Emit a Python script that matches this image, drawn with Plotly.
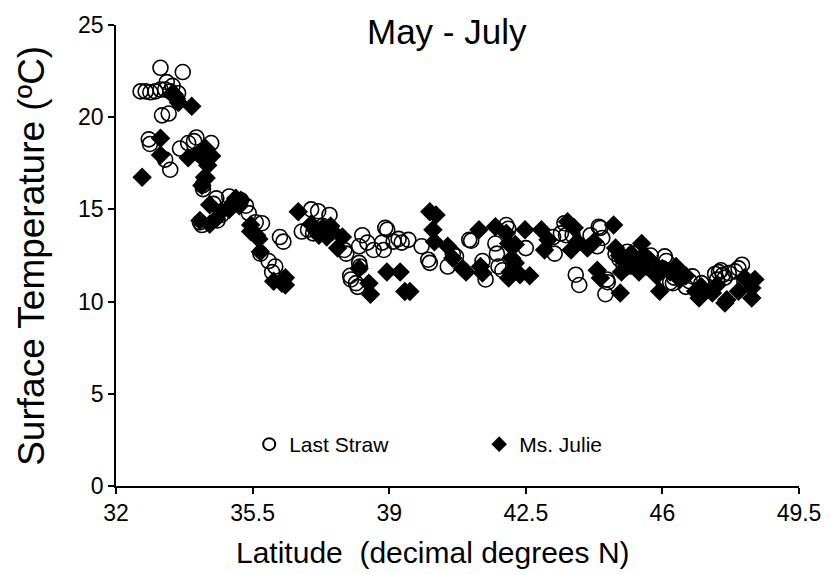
import plotly.graph_objects as go

# Last Straw (open circles)
ls_lat = [32.63, 32.76, 32.88, 33.01, 33.14, 33.26, 33.39, 33.59, 33.30, 33.14, 33.71, 33.45,
          33.18, 33.35, 32.84, 32.87, 33.26, 33.39, 33.64, 33.85, 34.06, 34.00, 34.44, 34.22, 34.23, 34.30, 34.20,
          34.15, 34.20, 34.57, 34.50, 34.90, 35.33, 35.40, 34.70, 34.60, 35.00, 35.20, 35.58, 35.74, 35.70, 35.91,
          36.08, 36.00, 36.20, 36.29,
          37.00, 37.18, 37.47, 36.76, 36.92, 37.05, 37.20, 37.30, 37.40, 37.85, 37.90, 38.00, 38.02, 38.15, 38.19,
          38.23, 38.25, 38.31, 38.23, 38.44, 38.60, 38.82, 38.90, 38.95, 38.86, 39.11, 39.24, 39.32, 39.49, 39.83,
          40.00, 40.04, 40.50, 40.63, 40.71, 41.05, 41.10,
          41.39, 41.47, 41.72, 41.76, 41.80, 41.90, 42.00, 42.05, 42.50, 43.24, 43.20, 43.49, 43.53, 43.40, 43.70,
          43.78, 43.87, 44.16, 44.41, 44.33, 44.37, 44.46, 44.58, 44.54, 44.60,
          44.80, 44.90, 45.00, 45.10, 45.20, 45.30, 45.50, 45.60, 45.70, 46.06, 46.10, 46.00, 46.27, 46.30, 46.20,
          46.77, 46.70, 46.60, 47.00, 47.35, 47.45, 47.55, 47.60, 47.50, 47.70, 47.86, 48.04, 47.95, 48.10,
          45.05, 45.25, 45.45, 47.40]
ls_temp = [21.4, 21.4, 21.35, 21.4, 21.5, 21.5, 21.4, 21.3, 21.9, 22.68, 22.45, 21.7,
           20.1, 20.2, 18.8, 18.55, 17.7, 17.15, 18.3, 18.6, 18.9, 18.7, 18.6, 16.3, 16.1, 17.7, 17.9,
           14.3, 14.15, 15.6, 15.3, 15.7, 15.2, 14.8, 14.7, 14.4, 15.3, 15.5, 14.3, 14.25, 12.6, 12.2,
           11.9, 11.6, 13.5, 13.25,
           15.0, 14.9, 14.7, 13.8, 13.9, 13.7, 13.9, 14.1, 13.8, 12.8, 12.6, 11.4, 11.2, 11.0, 10.8,
           12.1, 11.9, 13.6, 13.0, 13.2, 12.8, 13.2, 14.0, 13.9, 12.8, 13.25, 13.4, 13.2, 13.35, 13.0,
           12.27, 12.1, 11.9, 12.6, 12.45, 13.35, 13.3,
           12.2, 11.2, 13.15, 12.6, 11.9, 11.7, 14.15, 13.95, 12.9, 12.6, 13.5, 14.25, 13.6, 13.7, 13.6,
           11.46, 10.9, 13.6, 14.0, 13.0, 14.06, 13.45, 11.2, 10.4, 11.05,
           12.6, 12.3, 12.0, 12.7, 11.9, 12.2, 12.4, 12.1, 12.5, 12.45, 12.2, 11.8, 11.0, 11.3, 11.05,
           11.37, 11.1, 10.8, 11.0, 11.5, 11.6, 11.45, 11.3, 11.7, 11.55, 11.64, 12.0, 11.8, 11.1,
           12.4, 12.6, 11.8, 11.2]

# Ms. Julie (filled diamonds)
mj_lat = [32.67, 33.14, 33.14, 33.94, 33.50, 33.55, 33.60, 33.45, 33.85, 34.15, 34.30, 34.45, 34.35, 34.25,
          34.31, 34.27, 34.20,
          34.40, 34.15, 34.57, 34.40, 34.70, 34.90, 35.07, 35.16, 35.00, 35.20, 35.45, 35.45, 35.66, 35.70, 35.60,
          36.04, 36.34, 36.34, 36.25,
          36.67, 37.00, 37.10, 37.20, 37.30, 37.40, 37.50, 37.55, 37.80, 37.68, 38.23, 38.48, 38.52, 38.94, 39.28,
          39.40, 39.53,
          40.04, 40.20, 40.12, 40.16, 40.50, 40.63, 40.88, 40.97, 41.30, 41.34, 41.39, 41.72, 42.00, 42.06, 42.10,
          42.06, 42.23, 42.23, 42.35, 42.14, 42.60, 42.48, 42.90, 43.07, 42.98,
          43.57, 43.74, 43.82, 43.66, 44.25, 44.08, 44.33, 44.41, 44.75, 44.92, 44.80, 44.90, 45.00, 45.10, 45.20,
          45.30, 45.47, 45.40, 45.60, 45.70, 45.93, 45.85, 46.00, 46.20, 46.35, 46.60, 46.85, 46.94, 47.00, 47.28,
          47.40, 47.60, 47.65, 47.95, 48.29, 48.37, 48.29, 48.10,
          44.95, 45.15, 45.55, 46.45]
mj_temp = [16.75, 18.86, 17.95, 20.6, 21.2, 21.0, 20.8, 21.3, 17.8, 18.1, 18.3, 17.9, 17.4, 17.8,
           16.7, 16.75, 16.3,
           15.25, 14.4, 14.5, 14.2, 14.9, 15.0, 15.6, 15.2, 15.3, 15.5, 14.15, 13.8, 13.4, 12.7, 13.6,
           11.1, 11.3, 10.9, 11.0,
           14.87, 14.2, 13.9, 13.6, 14.0, 13.5, 14.1, 13.8, 13.5, 12.9, 11.8, 11.0, 10.4, 11.6, 11.6,
           10.55, 10.55,
           14.87, 14.7, 13.9, 13.25, 13.0, 12.35, 11.8, 11.6, 13.9, 11.9, 11.55, 14.06, 13.7, 13.15, 11.6,
           11.28, 13.1, 12.1, 11.46, 12.35, 11.4, 13.9, 13.9, 13.35, 12.8,
           14.33, 14.0, 13.25, 12.8, 13.25, 12.9, 11.7, 11.28, 14.15, 10.47, 12.9, 12.5, 12.2, 11.9, 12.6,
           12.3, 13.15, 11.6, 11.9, 12.2, 10.56, 11.4, 11.8, 11.6, 11.9, 11.4, 10.56, 10.2, 10.8, 10.47,
           10.9, 9.93, 10.1, 10.56, 10.2, 11.2, 10.74, 11.3,
           11.6, 12.0, 12.5, 11.2]

x_ticks = [32, 35.5, 39, 42.5, 46, 49.5]
y_ticks = [0, 5, 10, 15, 20, 25]

FONT = "Liberation Sans, Arial, sans-serif"

fig = go.Figure()
fig.add_trace(go.Scatter(
    x=ls_lat, y=ls_temp, mode="markers", name="Last Straw",
    marker=dict(symbol="circle-open", size=15, color="black", line=dict(width=1.6, color="black")),
))
fig.add_trace(go.Scatter(
    x=mj_lat, y=mj_temp, mode="markers", name="Ms. Julie",
    marker=dict(symbol="diamond", size=15, color="black", line=dict(width=0)),
))

fig.update_layout(
    width=833, height=574,
    margin=dict(l=116, r=23, t=22, b=88),
    paper_bgcolor="white", plot_bgcolor="white",
    font=dict(family=FONT, color="black"),
    showlegend=True,
    legend=dict(
        orientation="h", x=0.195, y=0.09, xanchor="left", yanchor="middle",
        font=dict(size=21, family=FONT), bgcolor="rgba(0,0,0,0)",
        entrywidth=185, entrywidthmode="pixels",
        itemsizing="constant",
    ),
    xaxis=dict(
        range=[32, 49.5], tickvals=x_ticks, ticktext=[str(v) for v in x_ticks],
        showgrid=False, zeroline=False, showline=True, linecolor="black", linewidth=1.5,
        ticks="outside", ticklen=6, tickwidth=1.5, tickcolor="black",
        tickfont=dict(size=23, family=FONT), mirror=False,
    ),
    yaxis=dict(
        range=[0, 25], tickvals=y_ticks,
        showgrid=False, zeroline=False, showline=True, linecolor="black", linewidth=1.5,
        ticks="outside", ticklen=6, tickwidth=1.5, tickcolor="black",
        tickfont=dict(size=23, family=FONT),
    ),
    annotations=[
        dict(text="May - July", xref="paper", yref="paper", x=0.485, y=0.986, xanchor="center", yanchor="middle",
             showarrow=False, font=dict(size=35, family=FONT)),
        dict(text="Latitude  (decimal degrees N)", xref="paper", yref="paper", x=0.464, y=-0.144,
             xanchor="center", yanchor="middle", showarrow=False, font=dict(size=30, family=FONT)),
        dict(text="Surface Temperature (ºC)", xref="paper", yref="paper", x=-0.124, y=0.5,
             xanchor="center", yanchor="middle", textangle=-90, showarrow=False, font=dict(size=37, family=FONT)),
    ],
)

fig.write_html("out.html")
